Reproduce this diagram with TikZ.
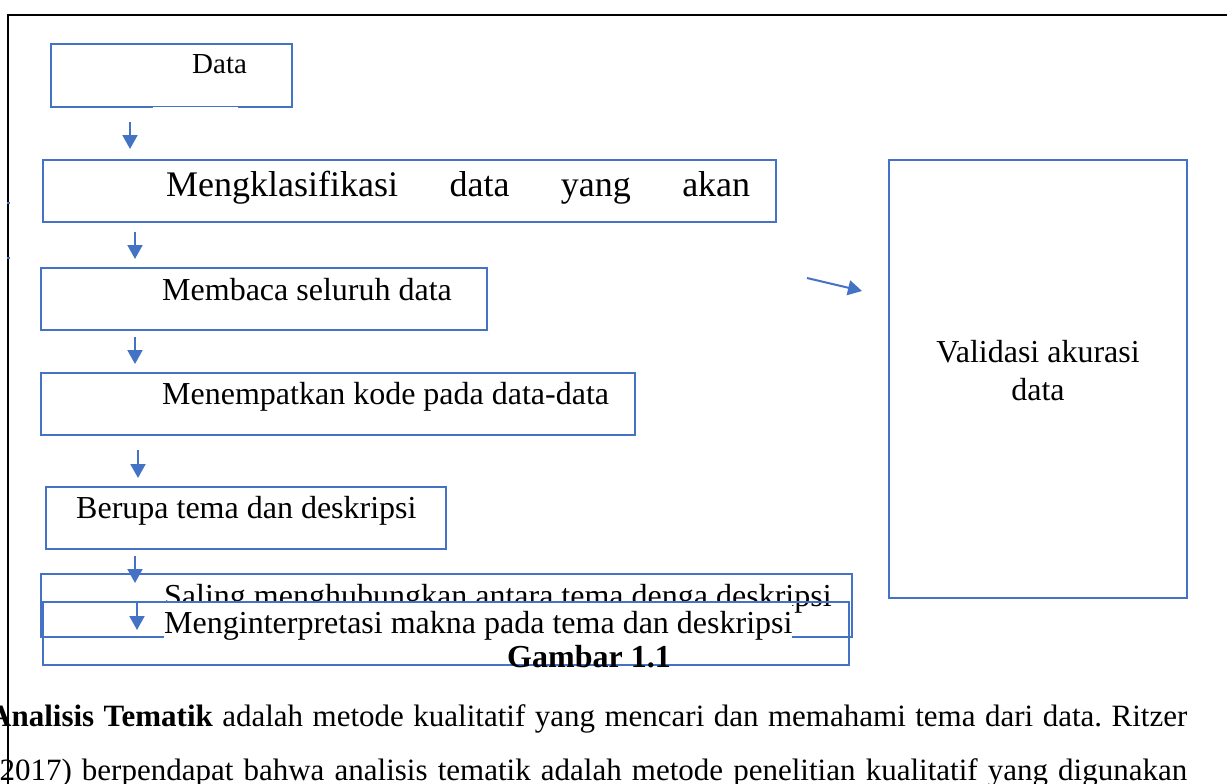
\documentclass[tikz,border=0pt]{standalone}
\usepackage{fontspec}
\setmainfont{Liberation Serif}
\usetikzlibrary{arrows.meta}
\definecolor{wblue}{HTML}{4472C4}
\tikzset{
  box/.style={draw=wblue, line width=2pt, rectangle, inner sep=0pt, fill=none},
  flowarr/.style={draw=wblue, line width=2pt, -{Triangle[width=15pt,length=14pt]}, fill=wblue},
  lbl/.style={anchor=base west, inner sep=0pt, font=\fontsize{32}{38}\selectfont},
  frame/.style={draw=black, line width=2pt}
}
\frenchspacing
\begin{document}
\begin{tikzpicture}[x=1pt,y=-1pt]
\useasboundingbox (0,0) rectangle (1227,784);
% outer frame
\draw[frame] (8,784) -- (8,15) -- (1227,15);
\fill[wblue] (7,202) rectangle (10,204);
\fill[wblue] (7,257) rectangle (10,259);

% boxes
\node[box, minimum width=241pt, minimum height=63pt] (data) at (171.5,75.5) {};
\draw[white, line width=1pt] (153,107.6) -- (238,107.6);
\node[box, minimum width=733pt, minimum height=62pt] (klas) at (409.5,191) {};
\node[box, minimum width=446pt, minimum height=62pt] (baca) at (264,299) {};
\node[box, minimum width=594pt, minimum height=62pt] (kode) at (338,404) {};
\node[box, minimum width=400pt, minimum height=62pt] (tema) at (246,518) {};
\node[box, minimum width=298pt, minimum height=438pt] (valid) at (1038,379) {};

% texts
\node[lbl, font=\fontsize{29}{34}\selectfont] (tdata) at (192,74) {Data};
\node[lbl, font=\fontsize{36}{42}\selectfont] (tklas) at (166,196) {\makebox[584pt]{Mengklasifikasi\hfill data\hfill yang\hfill akan}};
\node[lbl] (tbaca) at (162,300) {Membaca seluruh data};
\node[lbl] (tkode) at (162,404) {Menempatkan kode pada data-data};
\node[lbl] (ttema) at (76,518) {Berupa tema dan deskripsi};
\node[align=center, inner sep=0pt, font=\fontsize{32}{38}\selectfont] (tvalid) at (1038,371) {Validasi akurasi\\data};

% overlapping bottom boxes
\node[box, minimum width=811pt, minimum height=63pt] (saling) at (446.5,605.5) {};
\node[lbl] (tsaling) at (164,606) {Saling menghubungkan antara tema denga deskripsi};
\node[box, minimum width=806pt, minimum height=63pt] (interp) at (446,633.5) {};
\node[lbl, fill=white, text height=30pt, text depth=5pt] (tinterp) at (164,633) {Menginterpretasi makna pada tema dan deskripsi};
\node[lbl, font=\fontsize{32}{38}\selectfont\bfseries] (gambar) at (507,667) {Gambar 1.1};

% arrows
\coordinate (a1s) at (130,122); \coordinate (a1e) at (130,149);
\coordinate (a2s) at (135,232); \coordinate (a2e) at (135,259);
\coordinate (a3s) at (135,337); \coordinate (a3e) at (135,364);
\coordinate (a4s) at (138,450); \coordinate (a4e) at (138,478);
\coordinate (a5s) at (135,556); \coordinate (a5e) at (135,583);
\coordinate (a6s) at (137,603); \coordinate (a6e) at (137,630);
\coordinate (a7s) at (807,278); \coordinate (a7e) at (862,291);
\draw[flowarr] (a1s) -- (a1e);
\draw[flowarr] (a2s) -- (a2e);
\draw[flowarr] (a3s) -- (a3e);
\draw[flowarr] (a4s) -- (a4e);
\draw[flowarr] (a5s) -- (a5e);
\draw[flowarr] (a6s) -- (a6e);
\draw[flowarr] (a7s) -- (a7e);

% paragraph
\node[anchor=base west, inner sep=0pt, font=\fontsize{31}{36}\selectfont] (p1) at (-11,726) {\makebox[1198pt][s]{\textbf{Analisis Tematik} adalah metode kualitatif yang mencari dan memahami tema dari data. Ritzer}};
\node[anchor=base west, inner sep=0pt, font=\fontsize{31}{36}\selectfont] (p2) at (-11,780) {\makebox[1198pt][s]{(2017) berpendapat bahwa analisis tematik adalah metode penelitian kualitatif yang digunakan}};
\end{tikzpicture}
\end{document}
